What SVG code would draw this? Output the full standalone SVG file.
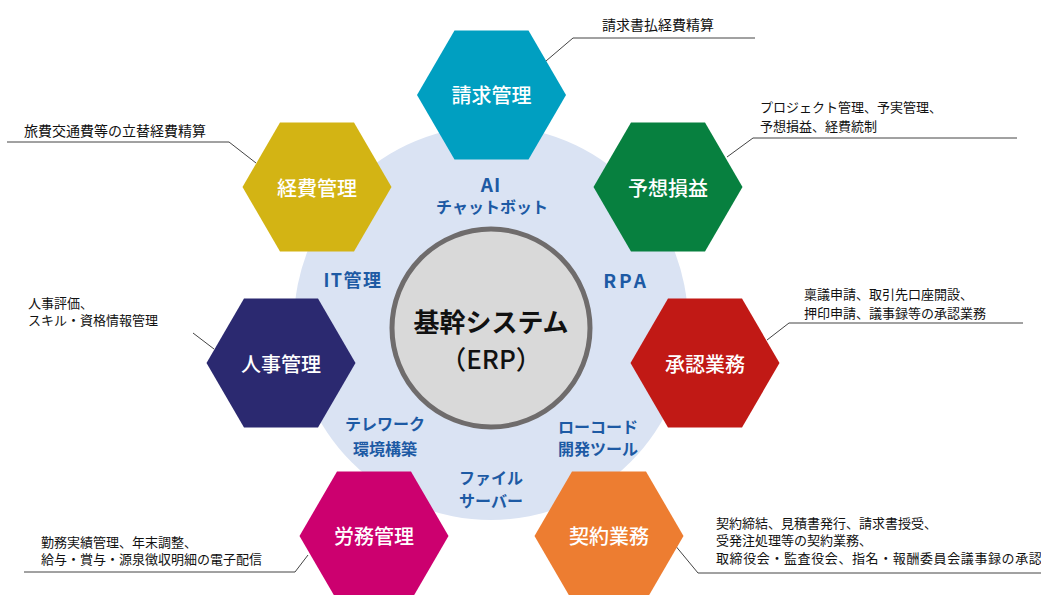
<svg xmlns="http://www.w3.org/2000/svg" xmlns:xlink="http://www.w3.org/1999/xlink" width="1041" height="595" viewBox="0 0 1041 595">
<style>
.hexlbl{font-family:"Noto Sans CJK JP","Noto Sans",sans-serif;font-size:20px;font-weight:500;fill:#fff;text-anchor:middle;dominant-baseline:central}
.blue{font-family:"Noto Sans CJK JP","Noto Sans",sans-serif;font-size:16px;font-weight:bold;fill:#1d5aa4;text-anchor:middle;dominant-baseline:central}
.note{font-family:"Noto Sans CJK JP","Noto Sans",sans-serif;font-size:13px;fill:#111;dominant-baseline:central}
.note14{font-family:"Noto Sans CJK JP","Noto Sans",sans-serif;font-size:14px;fill:#111;dominant-baseline:central}
.ctr{font-family:"Noto Sans CJK JP","Noto Sans",sans-serif;fill:#111;text-anchor:middle;dominant-baseline:central}
.ln{fill:none;stroke:#444;stroke-width:1}
</style>
<defs>
<polygon id="hex" points="-74.5,0 -37,-64.5 37,-64.5 74.5,0 37,64.5 -37,64.5"/>
</defs>
<rect width="1041" height="595" fill="#fff"/>
<g id="background">
<circle cx="491" cy="323" r="197" fill="#dae3f3"/>
</g>
<g id="center">
<circle cx="491" cy="328" r="99" fill="#d9d9d9" stroke="#6f6c6c" stroke-width="5"/>
<text class="ctr" x="491" y="320" font-size="26" font-weight="bold">基幹システム</text>
<text class="ctr" x="491" y="357" font-size="26" font-weight="500">（ERP）</text>
</g>
<g id="tools">
<text class="blue" x="491" y="183" style="font-size:19px" letter-spacing="1">AI</text>
<text class="blue" x="492" y="206">チャットボット</text>
<text class="blue" x="353" y="279" style="font-size:18px" letter-spacing="1.5">IT管理</text>
<text class="blue" x="626" y="279" style="font-size:19px" letter-spacing="3">RPA</text>
<text class="blue" x="385" y="423">テレワーク</text>
<text class="blue" x="385" y="448">環境構築</text>
<text class="blue" x="598" y="426">ローコード</text>
<text class="blue" x="598" y="448">開発ツール</text>
<text class="blue" x="491" y="477">ファイル</text>
<text class="blue" x="491" y="500">サーバー</text>
</g>
<g id="connectors">
<polyline class="ln" points="546,61 573,38 755,38"/>
<polyline class="ln" points="7,142 229,142 256,163"/>
<polyline class="ln" points="727,157 753,138 1017,138"/>
<polyline class="ln" points="193,333 214,349"/>
<polyline class="ln" points="767,340 789,323 1023,323"/>
<polyline class="ln" points="24,572 295,572 308,555"/>
<polyline class="ln" points="674,544 698,573 1041,573"/>
</g>
<g id="node-seikyu">
<use xlink:href="#hex" x="491.5" y="95" fill="#009fc1"/>
<text class="hexlbl" x="491.5" y="94">請求管理</text>
</g>
<g id="node-yoso">
<use xlink:href="#hex" x="668" y="187" fill="#07803f"/>
<text class="hexlbl" x="668" y="187">予想損益</text>
</g>
<g id="node-shonin">
<use xlink:href="#hex" x="705" y="363" fill="#c11915"/>
<text class="hexlbl" x="705" y="363">承認業務</text>
</g>
<g id="node-keiyaku">
<use xlink:href="#hex" x="609" y="536" fill="#ed7d31"/>
<text class="hexlbl" x="609" y="535">契約業務</text>
</g>
<g id="node-romu">
<use xlink:href="#hex" x="374" y="536" fill="#cc006f"/>
<text class="hexlbl" x="374" y="535">労務管理</text>
</g>
<g id="node-jinji">
<use xlink:href="#hex" x="281" y="363" fill="#2b2970"/>
<text class="hexlbl" x="281" y="363">人事管理</text>
</g>
<g id="node-keihi">
<use xlink:href="#hex" x="317" y="187" fill="#d3b414"/>
<text class="hexlbl" x="317" y="187">経費管理</text>
</g>
<g id="notes">
<text class="note14" x="602" y="24">請求書払経費精算</text>
<text class="note14" x="24" y="130">旅費交通費等の立替経費精算</text>
<text class="note" x="760" y="106">プロジェクト管理、予実管理、</text>
<text class="note" x="760" y="125">予想損益、経費統制</text>
<text class="note" x="28" y="302">人事評価、</text>
<text class="note" x="28" y="319">スキル・資格情報管理</text>
<text class="note" x="804" y="293">稟議申請、取引先口座開設、</text>
<text class="note" x="804" y="312">押印申請、議事録等の承認業務</text>
<text class="note" x="41" y="541">勤務実績管理、年末調整、</text>
<text class="note" x="41" y="558">給与・賞与・源泉徴収明細の電子配信</text>
<text class="note" x="716" y="522">契約締結、見積書発行、請求書授受、</text>
<text class="note" x="716" y="539.5">受発注処理等の契約業務、</text>
<text class="note" x="716" y="557" letter-spacing="0.6">取締役会・監査役会、指名・報酬委員会議事録の承認</text>
</g>
</svg>
